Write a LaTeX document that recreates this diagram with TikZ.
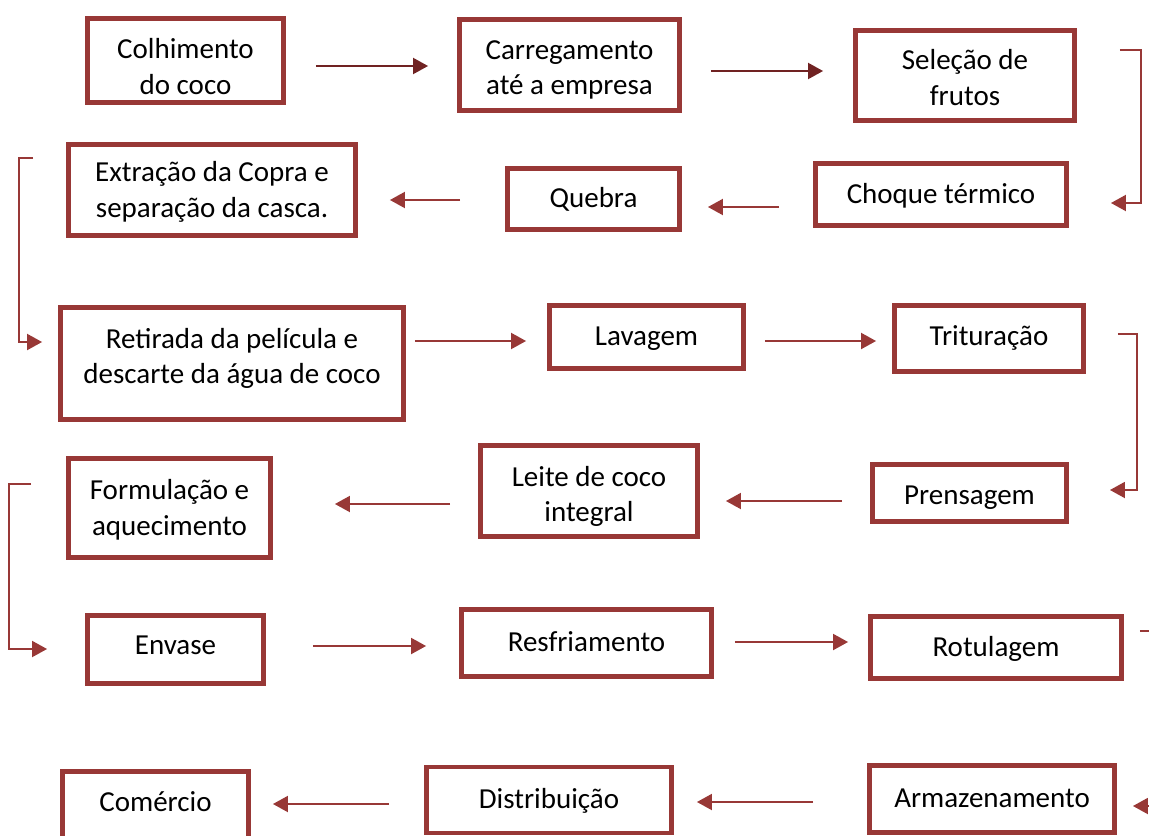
\documentclass[tikz,border=0pt]{standalone}
\usepackage{fontspec}
\setmainfont{Carlito}
\usetikzlibrary{arrows.meta,calc}
\definecolor{boxred}{RGB}{152,56,54}
\definecolor{arrowred}{RGB}{112,34,34}

\begin{document}
\begin{tikzpicture}[x=0.02cm,y=-0.02cm,
  box/.style={draw=boxred,line width=2.8pt,align=center,inner sep=0pt,
    text height=13.2pt,text depth=3pt,font=\fontsize{16.5}{20.4}\selectfont},
  twolines/.style={text height=34.3pt,text depth=3pt},
  arr/.style={draw=boxred,line width=1.1pt,-{Triangle[length=0.3cm,width=0.32cm]}},
  ]
				\useasboundingbox (0,0) rectangle (1149,835);
				% row 1
				\node[box,twolines,text height=41.7pt,minimum width=3.92cm,minimum height=1.68cm] (colh) at (185.5,60.5) {Colhimento\\do coco};
				\node[box,twolines,text height=37.1pt,minimum width=4.40cm,minimum height=1.82cm] (carr) at (569.5,65) {Carregamento\\até a empresa};
				\node[box,twolines,text height=37.1pt,minimum width=4.38cm,minimum height=1.80cm] (sel) at (965,75.5) {Seleção de\\frutos};
				% row 2
				\node[box,minimum width=5.02cm,minimum height=1.24cm] (choq) at (941,194.5) {Choque térmico};
				\node[box,minimum width=3.44cm,minimum height=1.22cm] (queb) at (593.5,199) {Quebra};
				\node[box,twolines,minimum width=5.74cm,minimum height=1.82cm] (extr) at (212,190) {Extração da Copra e\\separação da casca.};
				% row 3
				\node[box,twolines,text height=26.3pt,minimum width=6.86cm,minimum height=2.24cm] (reti) at (232,363.5) {Retirada da película e\\descarte da água de coco};
				\node[box,minimum width=3.88cm,minimum height=1.26cm] (lava) at (646.5,337) {Lavagem};
				\node[box,text depth=5.8pt,minimum width=3.78cm,minimum height=1.32cm] (trit) at (989,338.5) {Trituração};
				% row 4
				\node[box,text height=16.6pt,minimum width=3.88cm,minimum height=1.14cm] (pren) at (969.5,493) {Prensagem};
				\node[box,twolines,text height=38.2pt,minimum width=4.34cm,minimum height=1.82cm] (leit) at (589,491) {Leite de coco\\integral};
				\node[box,twolines,minimum width=4.04cm,minimum height=1.98cm] (form) at (169.5,508) {Formulação e\\aquecimento};
				% row 5
				\node[box,text depth=7pt,minimum width=3.52cm,minimum height=1.36cm] (enva) at (175.5,649.5) {Envase};
				\node[box,text depth=4.1pt,minimum width=5.00cm,minimum height=1.34cm] (resf) at (586.5,643) {Resfriamento};
				\node[box,minimum width=5.02cm,minimum height=1.24cm] (rotu) at (996,647.5) {Rotulagem};
				% row 6
				\node[box,minimum width=4.90cm,minimum height=1.34cm] (arma) at (992,799) {Armazenamento};
				\node[box,minimum width=4.90cm,minimum height=1.32cm] (dist) at (549,800) {Distribuição};
				\node[box,text depth=8.7pt,minimum width=3.72cm,minimum height=1.47cm] (come) at (155.5,808) {Comércio};
				% arrows
				\draw[arr,draw=arrowred,shorten <=0.6cm,shorten >=0.58cm] (colh.east |- 0,66) -- (carr.west |- 0,66);
				\draw[arr,draw=arrowred,shorten <=0.58cm,shorten >=0.6cm] (carr.east |- 0,71) -- (sel.west |- 0,71);
				\draw[arr] ($(sel.east |- 0,50)+(43,0)$) -- (1141,50) |- ($(choq.east |- 0,203)+(42,0)$);
				\draw[arr,shorten <=0.68cm,shorten >=0.52cm] (choq.west |- 0,207) -- (queb.east |- 0,207);
				\draw[arr,shorten <=0.9cm,shorten >=0.64cm] (queb.west |- 0,200) -- (extr.east |- 0,200);
				\draw[arr] ($(extr.west |- 0,158)-(33,0)$) -- (19,158) |- ($(reti.west |- 0,342)-(16,0)$);
				\draw[arr,shorten <=0.18cm,shorten >=0.42cm] (reti.east |- 0,341) -- (lava.west |- 0,341);
				\draw[arr,shorten <=0.38cm,shorten >=0.32cm] (lava.east |- 0,341) -- (trit.west |- 0,341);
				\draw[arr] ($(trit.east |- 0,334)+(32,0)$) -- (1137,334) |- ($(pren.east |- 0,490)+(41,0)$);
				\draw[arr,shorten <=0.56cm,shorten >=0.52cm] (pren.west |- 0,501) -- (leit.east |- 0,501);
				\draw[arr,shorten <=0.56cm,shorten >=1.24cm] (leit.west |- 0,504) -- (form.east |- 0,504);
				\draw[arr] ($(form.west |- 0,484)-(35,0)$) -- (9,484) |- ($(enva.west |- 0,649)-(38,0)$);
				\draw[arr,shorten <=0.94cm,shorten >=0.66cm] (enva.east |- 0,646) -- (resf.west |- 0,646);
				\draw[arr,shorten <=0.42cm,shorten >=0.4cm] (resf.east |- 0,642) -- (rotu.west |- 0,642);
				\draw[boxred,line width=1.1pt] ($(rotu.east |- 0,631)+(16,0)$) -- (1155,631);
				\draw[arr,shorten >=0.32cm] (1160,806) -- (arma.east |- 0,806);
				\draw[arr,shorten <=1.08cm,shorten >=0.46cm] (arma.west |- 0,802) -- (dist.east |- 0,802);
				\draw[arr,shorten <=0.7cm,shorten >=0.44cm] (dist.west |- 0,804) -- (come.east |- 0,804);
\end{tikzpicture}
\end{document}
